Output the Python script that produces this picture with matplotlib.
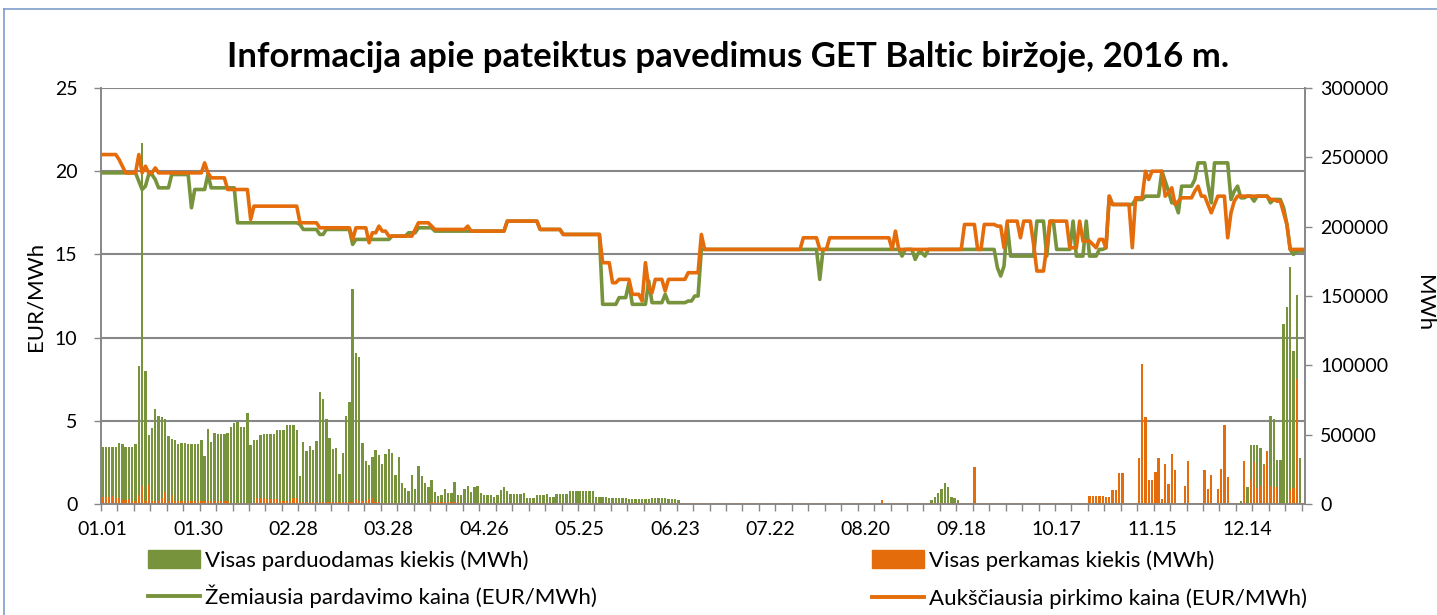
import matplotlib
matplotlib.use("Agg")
import matplotlib.pyplot as plt
from matplotlib.patches import Patch
from matplotlib.lines import Line2D
import numpy as np
import pandas as pd

plt.rcParams['font.family'] = ['Lato', 'DejaVu Sans']

# kategorijos - 2016 m. dienos
days = pd.date_range("2016-01-01", "2016-12-31", freq="D")
tick_labels = ["01.01", "01.30", "02.28", "03.28", "04.26", "05.25", "06.23",
               "07.22", "08.20", "09.18", "10.17", "11.15", "12.14"]

# Zemiausia pardavimo kaina (EUR/MWh): (reiksme, dienu skaicius)
sell_price_runs = [
    (19.9, 11), (19.4, 1), (18.9, 1), (19.1, 1), (19.8, 2), (19.5, 1), (19.0, 4),
    (19.8, 6), (17.8, 1), (18.9, 4), (19.8, 1), (19.0, 8), (16.9, 19), (16.8, 1),
    (16.5, 5), (16.2, 2), (16.5, 8), (15.6, 1), (15.9, 11), (16.1, 5), (16.3, 3),
    (16.6, 5), (16.4, 22), (17.0, 10), (16.5, 7), (16.2, 12), (12.0, 5), (12.4, 3),
    (13.3, 1), (12.0, 5), (13.4, 1), (12.1, 4), (12.6, 1), (12.1, 6), (12.2, 2),
    (12.5, 2), (15.3, 36), (13.5, 1), (15.3, 24), (14.9, 1), (15.3, 3), (14.7, 1),
    (15.1, 2), (14.9, 1), (15.3, 21), (14.2, 1), (13.7, 1), (14.3, 1), (16.8, 1),
    (14.9, 8), (17.0, 3), (14.9, 1), (17.0, 2), (15.3, 5), (17.0, 1), (14.9, 3),
    (17.0, 1), (14.9, 3), (15.3, 2), (15.4, 1), (18.5, 1), (18.0, 7), (18.3, 3),
    (18.5, 5), (20.0, 1), (19.4, 1), (18.8, 1), (18.1, 2), (17.5, 1), (19.1, 4),
    (19.5, 1), (20.5, 3), (19.2, 1), (18.1, 1), (20.5, 5), (18.3, 1), (18.8, 1),
    (19.1, 1), (18.4, 2), (18.5, 2), (18.2, 1), (18.5, 4), (18.1, 1), (18.3, 3),
    (17.8, 1), (16.8, 1), (15.3, 1), (15.0, 1), (15.2, 3),
]

# Aukščiausia pirkimo kaina (EUR/MWh)
buy_price_runs = [
    (21.0, 5), (20.7, 1), (20.3, 1), (19.9, 4), (21.0, 1), (19.9, 1), (20.3, 1),
    (19.9, 2), (20.2, 1), (19.9, 14), (20.5, 1), (19.9, 1), (19.6, 5), (18.9, 7),
    (17.1, 1), (17.9, 14), (16.9, 6), (16.6, 10), (15.9, 1), (16.6, 4), (15.7, 1),
    (16.3, 2), (16.7, 1), (16.4, 2), (16.1, 8), (16.5, 1), (16.9, 4), (16.7, 1),
    (16.5, 10), (16.7, 1), (16.4, 11), (17.0, 10), (16.5, 7), (16.2, 12), (14.5, 3),
    (13.3, 2), (13.5, 4), (12.6, 3), (12.2, 1), (14.5, 1), (13.0, 1), (12.7, 1),
    (13.5, 3), (12.8, 1), (13.5, 6), (13.9, 4), (16.2, 1), (15.3, 30), (16.0, 5),
    (15.3, 3), (16.0, 19), (15.3, 1), (16.4, 1), (15.3, 20), (16.8, 4), (15.3, 2),
    (16.8, 4), (16.7, 2), (15.4, 1), (17.0, 4), (16.0, 1), (17.0, 3), (15.6, 1),
    (14.0, 3), (15.5, 1), (17.0, 6), (15.4, 3), (17.0, 1), (15.8, 3), (15.6, 1),
    (15.4, 1), (15.9, 2), (15.4, 1), (18.5, 1), (18.0, 6), (15.4, 1), (18.4, 3),
    (20.0, 1), (19.5, 1), (20.0, 4), (18.5, 1), (18.7, 1), (19.0, 1), (18.0, 1),
    (18.2, 1), (18.4, 4), (18.8, 1), (19.1, 1), (18.5, 2), (18.0, 1), (17.5, 1),
    (18.0, 1), (18.5, 3), (16.0, 1), (17.5, 1), (18.2, 1), (18.5, 10), (18.3, 2),
    (18.2, 2), (17.5, 1), (16.8, 1), (15.3, 5),
]

# Visas parduodamas kiekis (tūkst. MWh)
sell_vol_runs = [
    (41.1, 5), (44.3, 1), (43.5, 1), (41.1, 3), (43.5, 1), (99.7, 1), (260, 1),
    (95.6, 1), (49.6, 1), (54.9, 1), (68.7, 1), (63.4, 1), (62.4, 1), (61.2, 1),
    (48.9, 1), (47.2, 1), (46.0, 1), (43.5, 1), (44.0, 2), (43.5, 4), (46.0, 1),
    (34.8, 1), (54.2, 1), (44.8, 1), (51.3, 1), (50.8, 3), (51.5, 1), (55.2, 1),
    (58.1, 1), (59.3, 1), (55.6, 2), (65.8, 1), (42.3, 1), (46.4, 2), (49.6, 1),
    (50.3, 4), (53.7, 1), (53.2, 2), (57.3, 3), (53.2, 1), (20.3, 1), (44.5, 1),
    (38.2, 1), (41.6, 1), (38.7, 1), (45.5, 1), (81.0, 1), (75.7, 1), (61.2, 1),
    (47.7, 1), (39.4, 1), (40.6, 1), (21.8, 1), (36.8, 1), (63.4, 1), (73.8, 1),
    (155, 1), (108.9, 1), (106, 1), (44.0, 1), (30.7, 1), (28.3, 1), (33.9, 1),
    (39.2, 1), (35.1, 1), (29.0, 1), (36.3, 1), (39.9, 1), (36.8, 1), (20.6, 1),
    (33.9, 1), (15.2, 1), (11.4, 1), (9.2, 1), (21.0, 1), (10.9, 1), (27.3, 1),
    (20.3, 1), (15.2, 1), (12.1, 1), (17.4, 1), (8.5, 1), (5.6, 1), (6.5, 1),
    (10.6, 1), (8.0, 2), (15.7, 1), (6.3, 2), (10.6, 1), (12.8, 1), (8.7, 1),
    (12.6, 1), (12.8, 1), (8.0, 1), (6.5, 3), (5.3, 1), (6.3, 1), (10.4, 1),
    (12.1, 1), (9.2, 1), (7.3, 4), (8.2, 1), (4.4, 3), (6.3, 3), (7.3, 1), (5.3, 2),
    (7.3, 4), (9.2, 8), (5.3, 4), (4.1, 6), (3.4, 7), (4.1, 5), (3.4, 3), (2.9, 1),
    (0.7, 76), (3, 1), (5, 1), (8, 1), (11, 1), (15, 1), (12, 1), (5, 1), (4, 1),
    (3, 1), (0.7, 64), (5.3, 1), (0.7, 20), (2.4, 1), (12.0, 2), (42.3, 3),
    (40.6, 1), (29.0, 1), (32.0, 1), (63.4, 1), (61.0, 1), (31.4, 2), (130, 1),
    (142, 1), (171, 1), (110, 1), (151, 1), (33, 1), (0, 1),
]

# Visas perkamas kiekis (tūkst. MWh)
buy_vol_runs = [
    (4.8, 3), (6.0, 1), (4.4, 1), (4.2, 1), (2.9, 2), (3.5, 1), (2.2, 1), (2.0, 1),
    (6.8, 1), (13.0, 1), (2.0, 1), (14.0, 1), (2.0, 3), (4.4, 1), (8.5, 1), (2.0, 1),
    (6.8, 1), (2.2, 17), (1.0, 8), (4.4, 3), (3.4, 4), (2.4, 4), (4.1, 2), (1.5, 17),
    (3.6, 1), (2.4, 3), (3.6, 1), (4.1, 1), (1.5, 2), (1.0, 15), (1.5, 9), (1.0, 42),
    (0.5, 86), (3.0, 1), (0.5, 27), (26.7, 1), (0.5, 34), (6.0, 5), (5.3, 2),
    (10.2, 2), (22.3, 2), (0.5, 4), (33.4, 1), (100.9, 1), (62.4, 1), (17.4, 2),
    (23.2, 1), (33.4, 1), (3.6, 1), (28.8, 1), (14.5, 1), (36.0, 1), (24.7, 1),
    (1.0, 2), (13.3, 1), (31.2, 1), (0.5, 4), (24.7, 1), (10.6, 1), (20.8, 1),
    (1.0, 1), (10.6, 1), (24.9, 1), (57.3, 1), (19.4, 1), (0.5, 4), (31.2, 1),
    (1.0, 1), (17.7, 1), (30.0, 1), (11.6, 1), (12.8, 1), (28.3, 1), (38.0, 1),
    (13.0, 1), (12.2, 1), (12.1, 1), (1.0, 3), (10.4, 1), (11.6, 1), (90, 1),
    (0.5, 2),
]


def expand(runs):
    vals = [v for v, n in runs]
    cnts = [n for v, n in runs]
    return np.repeat(vals, cnts)


sell_price = expand(sell_price_runs)
buy_price = expand(buy_price_runs)
sell_vol = expand(sell_vol_runs) * 1000
buy_vol = expand(buy_vol_runs) * 1000
for arr in (sell_price, buy_price, sell_vol, buy_vol):
    if len(arr) != len(days):
        raise ValueError("blogas ilgis: %d" % len(arr))

GREEN = "#77933C"
ORANGE = "#E46C0A"
GRID = "#878787"
FS = 14

W, H = 1437, 615
fig = plt.figure(figsize=(W / 100, H / 100), dpi=100)
fig.patch.set_facecolor("white")

# remelis aplink diagrama
fig.add_artist(Line2D([4 / W, 1], [1 - 9 / H, 1 - 9 / H], color="#7F9DC9", lw=1.2))
fig.add_artist(Line2D([4 / W, 4 / W], [0, 1 - 9 / H], color="#7F9DC9", lw=1.2))

ax = fig.add_axes([101 / W, 1 - 504 / H, (1305 - 101) / W, (504 - 88) / H])
ax2 = ax.twinx()

x = np.arange(len(days))

# stulpeliai - desine asis
ax.bar(x, sell_vol, width=0.72, color=GREEN, zorder=2)
ax.bar(x, buy_vol, width=0.72, color=ORANGE, zorder=3)
ax.set_ylim(0, 300000)
ax.set_xlim(-0.5, len(days) - 0.5)

# linijos - kaire asis
ax2.plot(x, sell_price, color=GREEN, lw=2.6, solid_joinstyle="round")
ax2.plot(x, buy_price, color=ORANGE, lw=2.6, solid_joinstyle="round")
ax2.set_ylim(0, 25)

# sukeiciam puses: kaina kaireje, kiekis desineje
ax2.yaxis.tick_left()
ax.yaxis.tick_right()
ax2.set_yticks(np.arange(0, 26, 5))
ax.set_yticks(np.arange(0, 300001, 50000))
ax.set_yticklabels([str(v) for v in range(0, 300001, 50000)])

# horizontalios tinklelio linijos pagal kaires asies padalas
for t in np.arange(5, 26, 5):
    ax.axhline(t * 300000 / 25, color=GRID, lw=1.5, zorder=1)

# x asis
ax.set_xticks(np.arange(0, len(days), 29))
ax.set_xticklabels(tick_labels)
ax.set_xticks(np.arange(-0.5, len(days), 5), minor=True)
ax.tick_params(axis="x", which="major", length=0, pad=12, labelsize=FS)
ax.tick_params(axis="x", which="minor", length=5, width=1, color=GRID, direction="out")
ax.tick_params(axis="y", which="major", length=5, width=1, color=GRID,
               direction="out", labelsize=FS, pad=6)
ax2.tick_params(axis="y", which="major", length=5, width=1, color=GRID,
                direction="out", labelsize=FS, pad=12)

for a in (ax, ax2):
    a.spines["top"].set_visible(False)
    for s in ("left", "right", "bottom"):
        a.spines[s].set_color(GRID)
        a.spines[s].set_linewidth(1.2)

fig.text(728 / W, 1 - 57 / H, "Informacija apie pateiktus pavedimus GET Baltic biržoje, 2016 m.",
         ha="center", va="center", fontsize=25, fontweight="bold")
fig.text(35 / W, 1 - 296 / H, "EUR/MWh", rotation=90, ha="center", va="center", fontsize=16)
fig.text(1424 / W, 1 - 303 / H, "MWh", rotation=-90, ha="center", va="center", fontsize=16)

# legenda - du stulpeliai
leg_kw = dict(frameon=False, fontsize=16, handlelength=2.35, handleheight=0.85,
              handletextpad=0.22, borderpad=0, borderaxespad=0, loc="upper left")
h1 = [Patch(color=GREEN), Line2D([], [], color=GREEN, lw=2.8)]
l1 = ["Visas parduodamas kiekis (MWh)", "Žemiausia pardavimo kaina (EUR/MWh)"]
h2 = [Patch(color=ORANGE), Line2D([], [], color=ORANGE, lw=2.8)]
l2 = ["Visas perkamas kiekis (MWh)", "Aukščiausia pirkimo kaina (EUR/MWh)"]
fig.legend(h1, l1, bbox_to_anchor=(148 / W, 1 - 550 / H), labelspacing=0.63, **leg_kw)
fig.legend(h2, l2, bbox_to_anchor=(872 / W, 1 - 550 / H), labelspacing=0.81, **leg_kw)

fig.savefig("out.png", dpi=100)
